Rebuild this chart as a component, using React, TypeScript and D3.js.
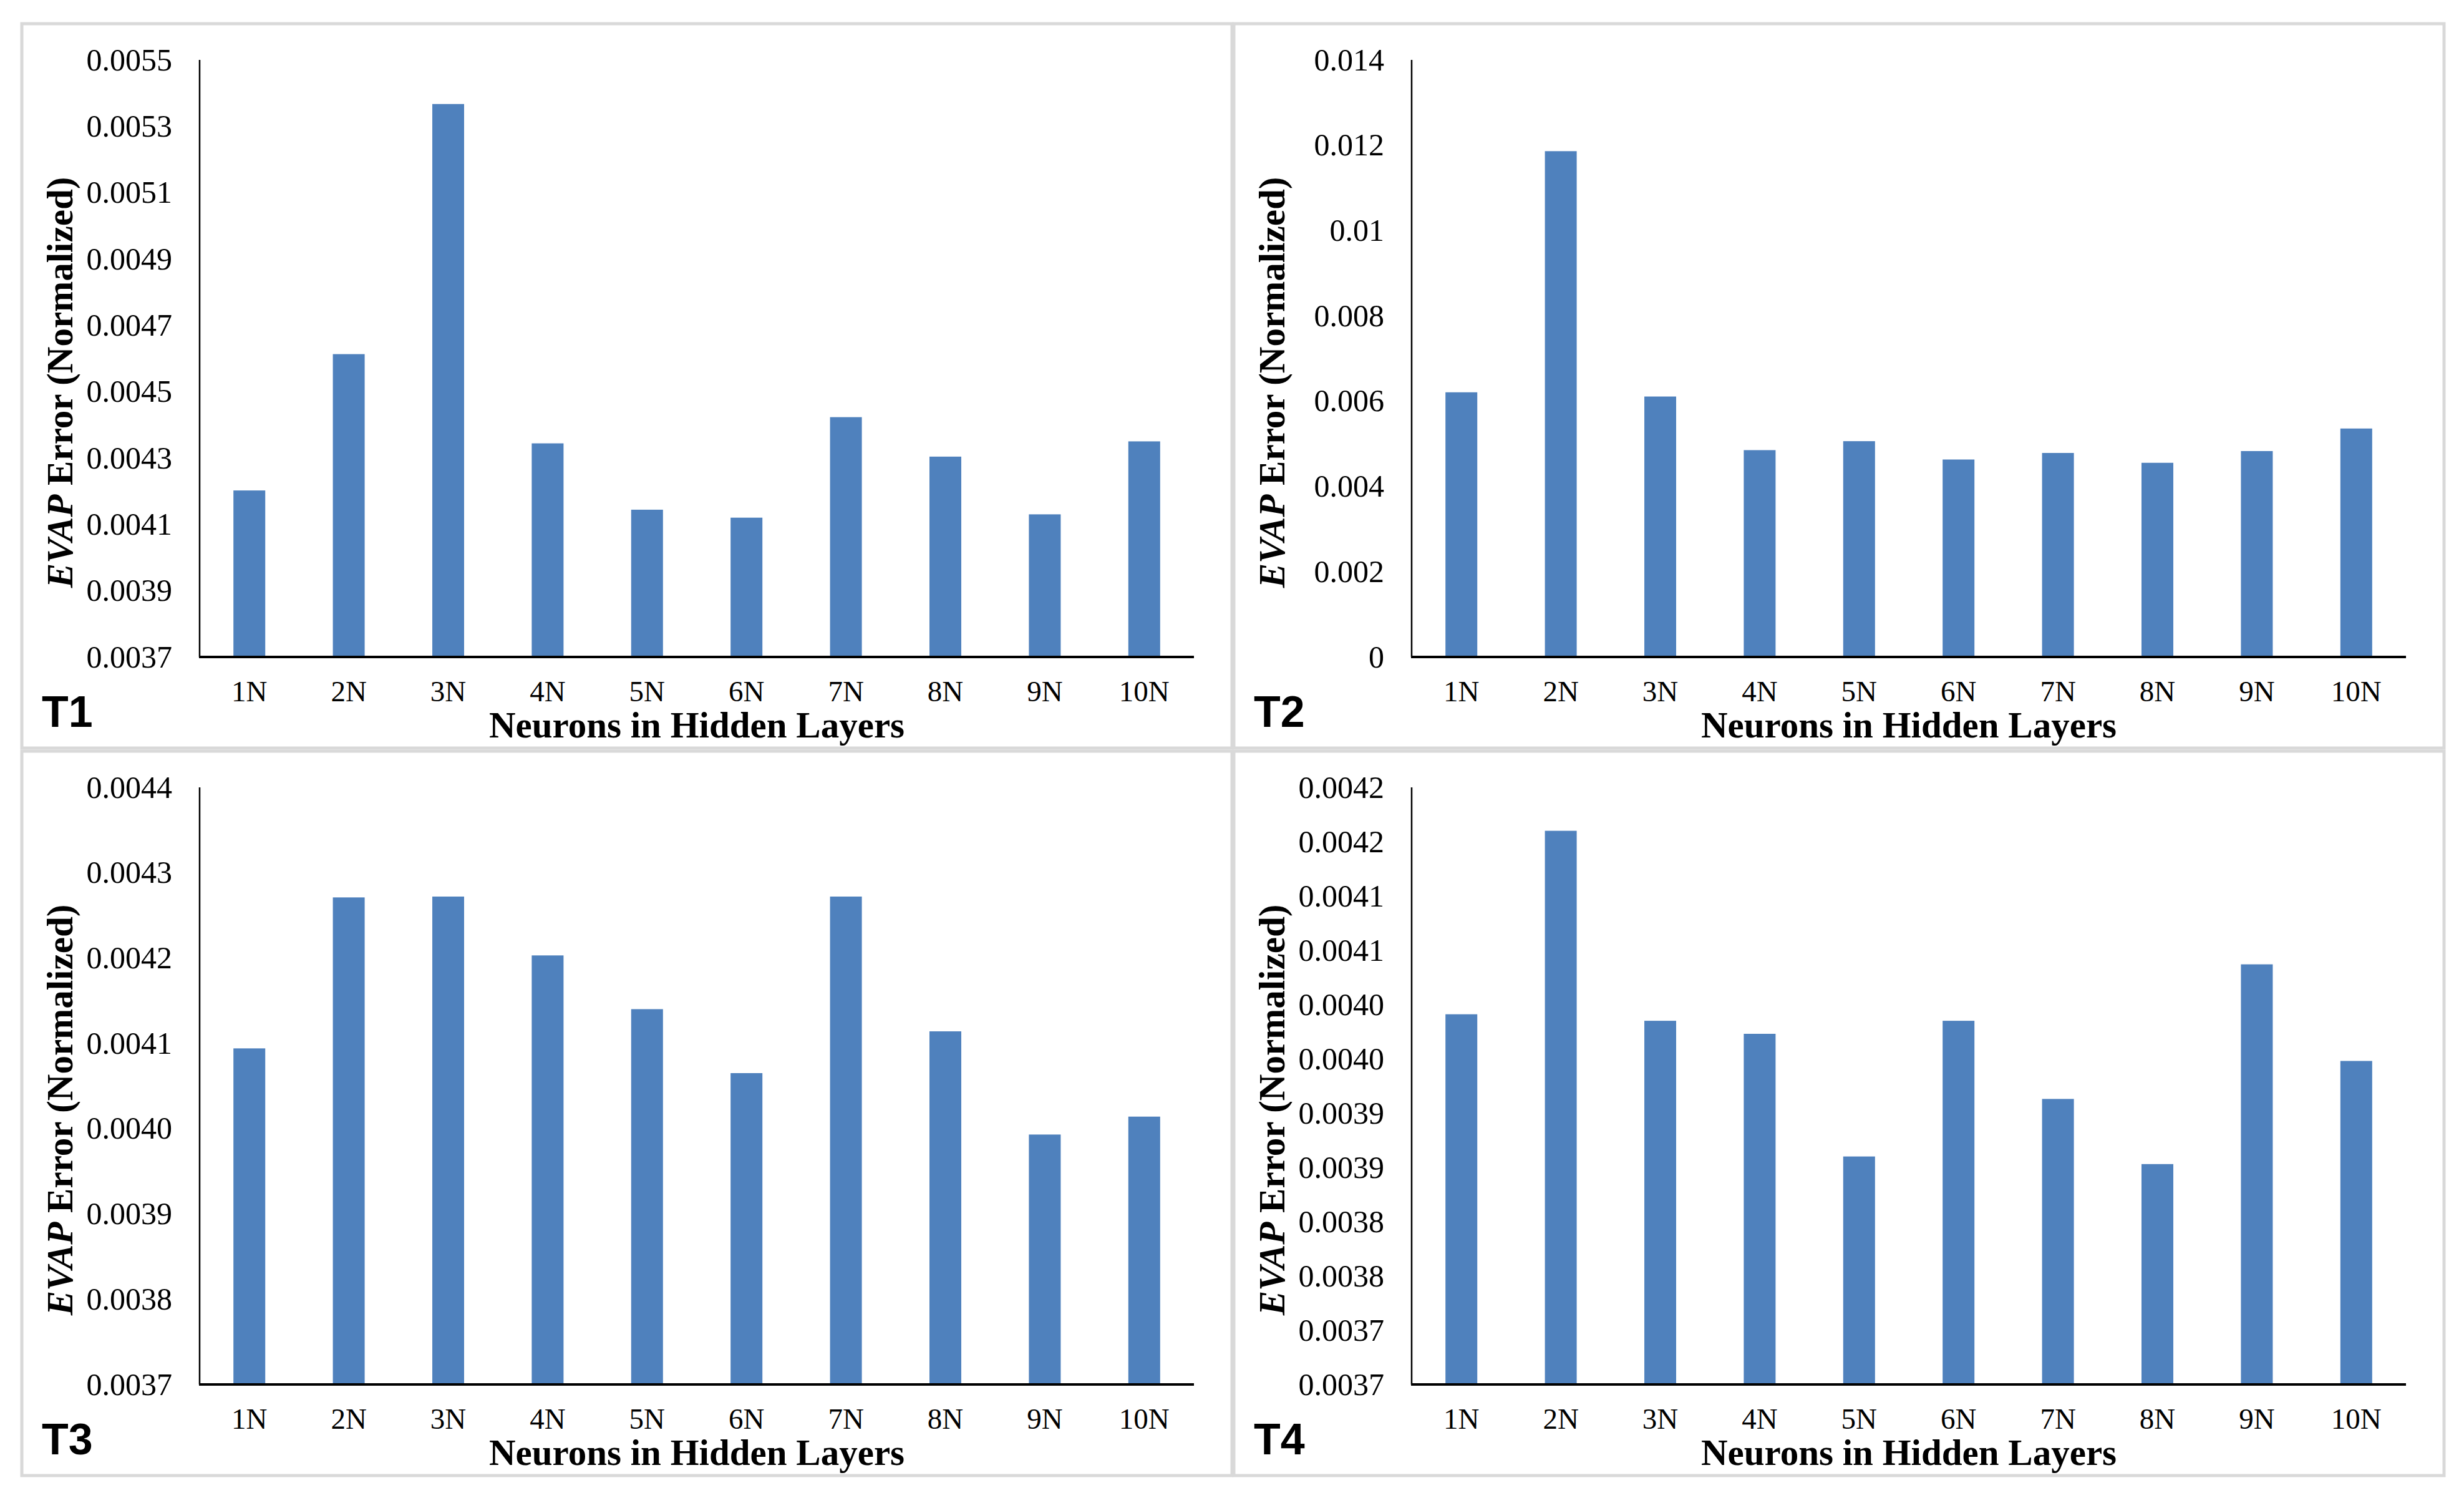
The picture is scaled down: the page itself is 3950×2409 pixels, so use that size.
import React, { useEffect, useRef } from 'react';
import * as d3 from 'd3';

const categories = ['1N', '2N', '3N', '4N', '5N', '6N', '7N', '8N', '9N', '10N'];

const t1Values = [0.004202, 0.004613, 0.005367, 0.004344, 0.004144, 0.00412, 0.004423, 0.004304, 0.00413, 0.00435];
const t2Values = [0.006206, 0.01186, 0.006107, 0.00485, 0.00506, 0.00463, 0.004784, 0.004553, 0.004828, 0.005357];
const t3Values = [0.004094, 0.004271, 0.004272, 0.004203, 0.00414, 0.004065, 0.004272, 0.004114, 0.003993, 0.004014];
const t4Values = [0.004041, 0.00421, 0.004035, 0.004023, 0.00391, 0.004035, 0.003963, 0.003903, 0.004087, 0.003998];

const t1Ticks = [0.0037, 0.0039, 0.0041, 0.0043, 0.0045, 0.0047, 0.0049, 0.0051, 0.0053, 0.0055];
const t1Labels = ['0.0037', '0.0039', '0.0041', '0.0043', '0.0045', '0.0047', '0.0049', '0.0051', '0.0053', '0.0055'];
const t2Ticks = [0, 0.002, 0.004, 0.006, 0.008, 0.01, 0.012, 0.014];
const t2Labels = ['0', '0.002', '0.004', '0.006', '0.008', '0.01', '0.012', '0.014'];
const t3Ticks = [0.0037, 0.0038, 0.0039, 0.004, 0.0041, 0.0042, 0.0043, 0.0044];
const t3Labels = ['0.0037', '0.0038', '0.0039', '0.0040', '0.0041', '0.0042', '0.0043', '0.0044'];
const t4Ticks = [0.0037, 0.00375, 0.0038, 0.00385, 0.0039, 0.00395, 0.004, 0.00405, 0.0041, 0.00415, 0.0042, 0.00425];
const t4Labels = ['0.0037', '0.0037', '0.0038', '0.0038', '0.0039', '0.0039', '0.0040', '0.0040', '0.0041', '0.0041', '0.0042', '0.0042'];

const panelNames = ['T1', 'T2', 'T3', 'T4'];
const panelValues = [t1Values, t2Values, t3Values, t4Values];
const panelTicks = [t1Ticks, t2Ticks, t3Ticks, t4Ticks];
const panelLabels = [t1Labels, t2Labels, t3Labels, t4Labels];

const W = 3950;
const H = 2409;
const SERIF = '"Liberation Serif", "Times New Roman", serif';
const SANS = '"Liberation Sans", Arial, sans-serif';

export default function App() {
  const svgRef = useRef<SVGSVGElement>(null);

  useEffect(() => {
    if (!svgRef.current) return;
    const svg = d3.select(svgRef.current);
    svg.selectAll('*').remove();

    svg.append('rect').attr('width', W).attr('height', H).attr('fill', '#fff');

    // panel box size and inner layout (relative to panel origin)
    const pw = 1940, ph = 1161;
    const left = 285, top = 58, bottom = 1015, right = 1879;

    panelNames.forEach((name, i) => {
      const col = i % 2, row = Math.floor(i / 2);
      const g = svg.append('g')
        .attr('transform', `translate(${35 + col * 1943},${38 + row * 1166})`);

      g.append('rect')
        .attr('width', pw).attr('height', ph)
        .attr('fill', '#fff')
        .attr('stroke', '#d9d9d9').attr('stroke-width', 5);

      const ticks = panelTicks[i];
      const labels = panelLabels[i];
      const values = panelValues[i];

      const x = d3.scaleBand<string>()
        .domain(categories)
        .range([left, right])
        .paddingInner(0.68)
        .paddingOuter(0.34);
      const y = d3.scaleLinear()
        .domain([ticks[0], ticks[ticks.length - 1]])
        .range([bottom, top]);

      // bars
      g.selectAll('rect.bar')
        .data(values)
        .join('rect')
        .attr('class', 'bar')
        .attr('x', (d, j) => x(categories[j])!)
        .attr('width', x.bandwidth())
        .attr('y', d => y(d))
        .attr('height', d => bottom - y(d))
        .attr('fill', '#4f81bd');

      // y axis
      const yAxis = d3.axisLeft(y)
        .tickValues(ticks)
        .tickSize(0)
        .tickPadding(44)
        .tickFormat((d, j) => labels[j]);
      const ya = g.append('g').attr('transform', `translate(${left},0)`).call(yAxis);
      ya.select('.domain').remove();
      ya.selectAll('text')
        .attr('font-family', SERIF)
        .attr('font-size', 50)
        .attr('fill', '#000');

      // x axis
      const xAxis = d3.axisBottom(x).tickSize(0).tickPadding(38);
      const xa = g.append('g').attr('transform', `translate(0,${bottom})`).call(xAxis);
      xa.select('.domain').remove();
      xa.selectAll('text')
        .attr('font-family', SERIF)
        .attr('font-size', 47)
        .attr('fill', '#000');

      g.append('line')
        .attr('x1', left).attr('x2', left)
        .attr('y1', top).attr('y2', bottom)
        .attr('stroke', '#000').attr('stroke-width', 2.5);
      g.append('line')
        .attr('x1', left - 1).attr('x2', right)
        .attr('y1', bottom).attr('y2', bottom)
        .attr('stroke', '#000').attr('stroke-width', 4);

      // axis titles
      const yt = g.append('text')
        .attr('transform', `translate(81,575) rotate(-90)`)
        .attr('text-anchor', 'middle')
        .attr('font-family', SERIF)
        .attr('font-weight', 'bold')
        .attr('font-size', 59)
        .attr('fill', '#000');
      yt.append('tspan').attr('font-style', 'italic').text('EVAP');
      yt.append('tspan').text(' Error (Normalized)');

      g.append('text')
        .attr('x', (left + right) / 2)
        .attr('y', 1144)
        .attr('text-anchor', 'middle')
        .attr('font-family', SERIF)
        .attr('font-weight', 'bold')
        .attr('font-size', 59)
        .attr('fill', '#000')
        .text('Neurons in Hidden Layers');

      g.append('text')
        .attr('x', 32)
        .attr('y', 1127)
        .attr('font-family', SANS)
        .attr('font-weight', 'bold')
        .attr('font-size', 70)
        .attr('fill', '#000')
        .text(name);
    });
  }, []);

  return (
    <svg
      ref={svgRef}
      width={W}
      height={H}
      style={{ position: 'absolute', left: 0, top: 0, display: 'block' }}
    />
  );
}
